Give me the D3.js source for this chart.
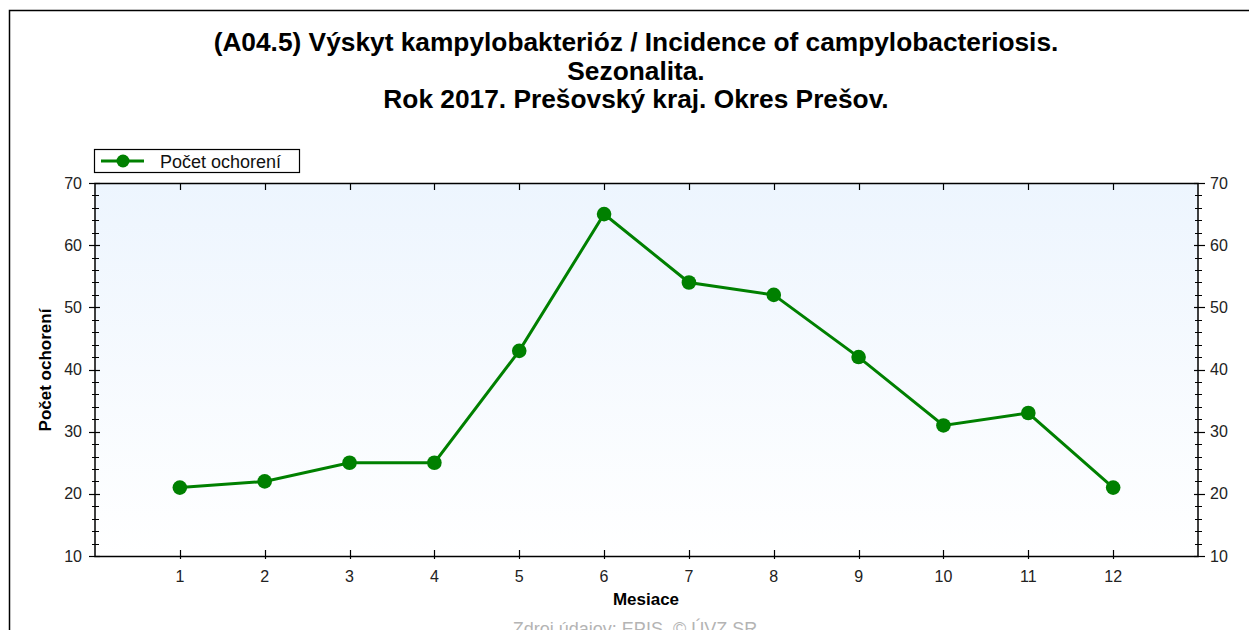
<!DOCTYPE html>
<html>
<head>
<meta charset="utf-8">
<script src="https://cdn.jsdelivr.net/npm/d3@7"></script>
<style>
  body { margin: 0; background: #fff; }
  svg { display: block; font-family: "Liberation Sans", Arial, sans-serif; }
</style>
</head>
<body>
<svg id="chart" width="1249" height="630"></svg>
<script>
// chart data
var months = [1, 2, 3, 4, 5, 6, 7, 8, 9, 10, 11, 12];
var cases = [21, 22, 25, 25, 43, 65, 54, 52, 42, 31, 33, 21];
var yTicks = [10, 20, 30, 40, 50, 60, 70];
var titleLines = [
  "(A04.5) Výskyt kampylobakterióz / Incidence of campylobacteriosis.",
  "Sezonalita.",
  "Rok 2017. Prešovský kraj. Okres Prešov."
];
var seriesName = "Počet ochorení";

var svg = d3.select("#chart");
var W = 1249, H = 630;
var m = { left: 95, right: 1198, top: 183, bottom: 556 };

// outer frame (left + top edges only visible)
svg.append("path")
  .attr("d", "M9.5," + H + "V10.5H" + W)
  .attr("fill", "none")
  .attr("stroke", "#000")
  .attr("stroke-width", 1.5);

// title
svg.append("g").selectAll("text")
  .data(titleLines)
  .enter().append("text")
  .attr("x", 636)
  .attr("y", function(d, i) { return 51 + i * 28.5; })
  .attr("text-anchor", "middle")
  .attr("font-size", 26.3)
  .attr("font-weight", "bold")
  .text(function(d) { return d; });

var x = d3.scaleLinear().domain([0, 13]).range([m.left, m.right]);
var y = d3.scaleLinear().domain([10, 70]).range([m.bottom, m.top]);

// background gradient
var grad = svg.append("defs").append("linearGradient")
  .attr("id", "bg").attr("x1", 0).attr("y1", 0).attr("x2", 0).attr("y2", 1);
grad.append("stop").attr("offset", "0%").attr("stop-color", "#edf5fe");
grad.append("stop").attr("offset", "100%").attr("stop-color", "#ffffff");

svg.append("rect")
  .attr("x", m.left).attr("y", m.top)
  .attr("width", m.right - m.left).attr("height", m.bottom - m.top)
  .attr("fill", "url(#bg)");

var minorTicks = d3.range(10, 70.1, 2);

// left axis
var gl = svg.append("g").attr("transform", "translate(" + m.left + ",0)");
gl.selectAll(".minor").data(minorTicks).enter().append("line")
  .attr("x1", -3).attr("x2", 4)
  .attr("y1", function(d) { return Math.round(y(d)) + 0.5; })
  .attr("y2", function(d) { return Math.round(y(d)) + 0.5; })
  .attr("stroke", "#000");
gl.selectAll(".major").data(yTicks).enter().append("line")
  .attr("x1", -6).attr("x2", 5)
  .attr("y1", function(d) { return Math.round(y(d)) + 0.5; })
  .attr("y2", function(d) { return Math.round(y(d)) + 0.5; })
  .attr("stroke", "#000").attr("stroke-width", 1.2);
gl.selectAll("text").data(yTicks).enter().append("text")
  .attr("x", -13).attr("y", function(d) { return y(d); })
  .attr("dy", "0.35em").attr("text-anchor", "end")
  .attr("font-size", 16).attr("fill", "#222")
  .text(function(d) { return d; });

// right axis
var gr = svg.append("g").attr("transform", "translate(" + m.right + ",0)");
gr.selectAll(".minor").data(minorTicks).enter().append("line")
  .attr("x1", -3).attr("x2", 4)
  .attr("y1", function(d) { return Math.round(y(d)) + 0.5; })
  .attr("y2", function(d) { return Math.round(y(d)) + 0.5; })
  .attr("stroke", "#000");
gr.selectAll(".major").data(yTicks).enter().append("line")
  .attr("x1", -4).attr("x2", 7)
  .attr("y1", function(d) { return Math.round(y(d)) + 0.5; })
  .attr("y2", function(d) { return Math.round(y(d)) + 0.5; })
  .attr("stroke", "#000").attr("stroke-width", 1.2);
gr.selectAll("text").data(yTicks).enter().append("text")
  .attr("x", 12).attr("y", function(d) { return y(d); })
  .attr("dy", "0.35em").attr("text-anchor", "start")
  .attr("font-size", 16).attr("fill", "#222")
  .text(function(d) { return d; });

// bottom + top axis ticks
svg.selectAll(".xb").data(months).enter().append("line")
  .attr("x1", function(d) { return Math.round(x(d)) + 0.5; })
  .attr("x2", function(d) { return Math.round(x(d)) + 0.5; })
  .attr("y1", m.bottom - 6).attr("y2", m.bottom + 3)
  .attr("stroke", "#000").attr("stroke-width", 1.2);
svg.selectAll(".xt").data(months).enter().append("line")
  .attr("x1", function(d) { return Math.round(x(d)) + 0.5; })
  .attr("x2", function(d) { return Math.round(x(d)) + 0.5; })
  .attr("y1", m.top).attr("y2", m.top + 7)
  .attr("stroke", "#000").attr("stroke-width", 1.2);
svg.selectAll(".xl").data(months).enter().append("text")
  .attr("x", function(d) { return x(d); })
  .attr("y", m.bottom + 26)
  .attr("text-anchor", "middle")
  .attr("font-size", 16).attr("fill", "#222")
  .text(function(d) { return d; });

// plot frame lines
svg.append("rect")
  .attr("x", m.left).attr("y", m.top + 0.5)
  .attr("width", m.right - m.left).attr("height", m.bottom - m.top)
  .attr("fill", "none").attr("stroke", "#000").attr("stroke-width", 1.5);

// series line
var line = d3.line()
  .x(function(d, i) { return x(months[i]); })
  .y(function(d) { return y(d); });

svg.append("path")
  .datum(cases)
  .attr("d", line)
  .attr("fill", "none")
  .attr("stroke", "#008000")
  .attr("stroke-width", 3);

svg.selectAll(".pt").data(cases).enter().append("circle")
  .attr("cx", function(d, i) { return x(months[i]); })
  .attr("cy", function(d) { return y(d); })
  .attr("r", 7.3)
  .attr("fill", "#008000");

// axis titles
svg.append("text")
  .attr("transform", "translate(51," + 370 + ") rotate(-90)")
  .attr("text-anchor", "middle")
  .attr("font-size", 17).attr("font-weight", "bold")
  .text(seriesName);

svg.append("text")
  .attr("x", 646).attr("y", 605)
  .attr("text-anchor", "middle")
  .attr("font-size", 17).attr("font-weight", "bold")
  .text("Mesiace");

svg.append("text")
  .attr("x", 635).attr("y", 635)
  .attr("text-anchor", "middle")
  .attr("font-size", 18).attr("fill", "#b4b4b4")
  .text("Zdroj údajov: EPIS, © ÚVZ SR");

// legend
var lg = svg.append("g");
lg.append("rect")
  .attr("x", 94.5).attr("y", 149.5).attr("width", 205).attr("height", 23)
  .attr("fill", "#fff").attr("stroke", "#000").attr("stroke-width", 1.2);
lg.append("line")
  .attr("x1", 101).attr("x2", 144).attr("y1", 161).attr("y2", 161)
  .attr("stroke", "#008000").attr("stroke-width", 3);
lg.append("circle")
  .attr("cx", 123).attr("cy", 161).attr("r", 6.5)
  .attr("fill", "#008000");
lg.append("text")
  .attr("x", 160).attr("y", 167.5)
  .attr("font-size", 18).attr("fill", "#111")
  .text(seriesName);
</script>
</body>
</html>
